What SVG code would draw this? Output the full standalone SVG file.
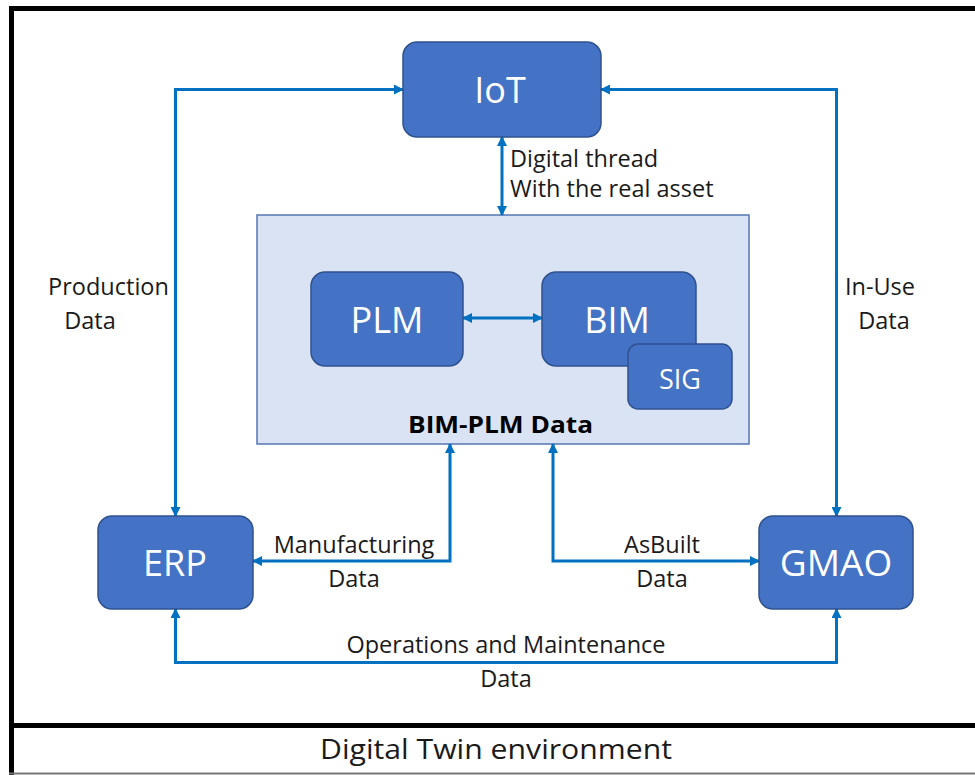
<svg xmlns="http://www.w3.org/2000/svg" width="975" height="775" viewBox="0 0 975 775">
<style>
.node{fill:#4472c4;stroke:#2f528f;stroke-width:1.5}
.nt{fill:#fff;font-family:"Open Sans","Noto Sans",sans-serif;text-anchor:middle}
.lbl{fill:#1a1a1a;font-family:"Open Sans","Noto Sans",sans-serif;font-size:23.5px}
.c{fill:none;stroke:#0070c0;stroke-width:3;marker-start:url(#a);marker-end:url(#a)}
</style>
<defs>
<marker id="a" viewBox="0 0 10 10" refX="9" refY="5" markerWidth="10" markerHeight="10" markerUnits="userSpaceOnUse" orient="auto-start-reverse">
<path d="M0,0 L10,5 L0,10 Z" fill="#0070c0"/>
</marker>
</defs>
<rect width="975" height="775" fill="#fff"/>
<g id="frame">
<line x1="9" y1="8.5" x2="975" y2="8.5" stroke="#000" stroke-width="5"/>
<line x1="11.5" y1="6" x2="11.5" y2="775" stroke="#000" stroke-width="5"/>
<line x1="9" y1="725.5" x2="975" y2="725.5" stroke="#000" stroke-width="5"/>
<line x1="9" y1="773.5" x2="975" y2="773.5" stroke="#777" stroke-width="2"/>
<text x="496" y="759" font-family="'Liberation Sans Narrow','Open Sans',sans-serif" font-size="27" fill="#1a1a1a" text-anchor="middle" textLength="352" lengthAdjust="spacingAndGlyphs">Digital Twin environment</text>
</g>
<g id="bimplm">
<rect x="257" y="215" width="492" height="229" fill="#dae3f3" stroke="#5575b5" stroke-width="1.5"/>
<text x="500.5" y="433" font-family="'Open Sans','Noto Sans',sans-serif" font-size="23" font-weight="bold" fill="#000" text-anchor="middle" textLength="185" lengthAdjust="spacingAndGlyphs">BIM-PLM Data</text>
</g>
<g id="connectors">
<path class="c" d="M403,89.5 H175.5 V516"/>
<path class="c" d="M601,89.5 H836.5 V516"/>
<path class="c" d="M502,137 V215"/>
<path class="c" d="M463,318 H542"/>
<path class="c" d="M450,444 V561 H253"/>
<path class="c" d="M553,444 V561 H759"/>
<path class="c" d="M175.5,609 V662.5 H836.5 V609"/>
</g>
<g id="labels">
<text class="lbl" x="108.5" y="295" text-anchor="middle">Production</text>
<text class="lbl" x="90" y="329" text-anchor="middle">Data</text>
<text class="lbl" x="880" y="295" text-anchor="middle">In-Use</text>
<text class="lbl" x="884" y="329" text-anchor="middle">Data</text>
<text class="lbl" x="510" y="167" font-size="23">Digital thread</text>
<text class="lbl" x="510" y="197" font-size="23">With the real asset</text>
<text class="lbl" x="354" y="553" text-anchor="middle">Manufacturing</text>
<text class="lbl" x="354" y="587" text-anchor="middle">Data</text>
<text class="lbl" x="662" y="553" text-anchor="middle">AsBuilt</text>
<text class="lbl" x="662" y="587" text-anchor="middle">Data</text>
<text class="lbl" x="506" y="653" text-anchor="middle">Operations and Maintenance</text>
<text class="lbl" x="506" y="687" text-anchor="middle">Data</text>
</g>
<g id="iot">
<rect class="node" x="403" y="42" width="198" height="95" rx="14"/>
<text class="nt" x="500" y="103" font-size="36">IoT</text>
</g>
<g id="plm">
<rect class="node" x="311" y="272" width="152" height="94" rx="14"/>
<text class="nt" x="387" y="333" font-size="36">PLM</text>
</g>
<g id="bim">
<rect class="node" x="542" y="272" width="154" height="94" rx="14"/>
<text class="nt" x="617" y="333" font-size="36">BIM</text>
</g>
<g id="sig">
<rect class="node" x="628" y="344" width="104" height="65" rx="10"/>
<text class="nt" x="680" y="389" font-size="27">SIG</text>
</g>
<g id="erp">
<rect class="node" x="98" y="516" width="155" height="93" rx="14"/>
<text class="nt" x="175" y="576" font-size="36">ERP</text>
</g>
<g id="gmao">
<rect class="node" x="759" y="516" width="154" height="93" rx="14"/>
<text class="nt" x="836" y="576" font-size="37">GMAO</text>
</g>
</svg>
